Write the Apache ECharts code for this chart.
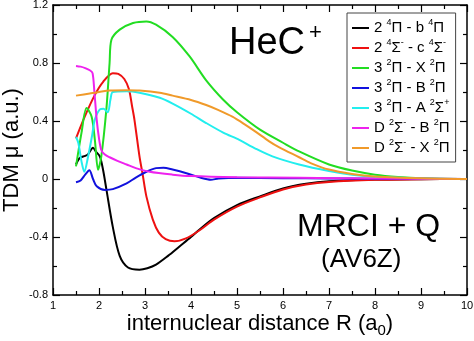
<!DOCTYPE html>
<html>
<head>
<meta charset="utf-8">
<script src="https://cdn.jsdelivr.net/npm/echarts@6/dist/echarts.min.js"></script>
<style>html,body{margin:0;padding:0;background:#fff}#c{width:474px;height:341px}</style>
</head>
<body>
<div id="c"></div>
<script>
// Tick values
const xTicks = [1, 2, 3, 4, 5, 6, 7, 8, 9, 10];
const yTicks = [-0.8, -0.4, 0, 0.4, 0.8, 1.2];

// Series names (legend) and rich labels
const seriesNames = ['2 4Π - b 4Π', '2 4Σ- - c 4Σ-', '3 2Π - X 2Π', '3 2Π - B 2Π', '3 2Π - A 2Σ+', 'D 2Σ- - B 2Π', 'D 2Σ- - X 2Π'];
const seriesLabels = [
  '2 {sup|4}Π - b {sup|4}Π',
  '2 {sup|4}Σ{sup|-} - c {sup|4}Σ{sup|-}',
  '3 {sup|2}Π - X {sup|2}Π',
  '3 {sup|2}Π - B {sup|2}Π',
  '3 {sup|2}Π - A {sup|2}Σ{sup|+}',
  'D {sup|2}Σ{sup|-} - B {sup|2}Π',
  'D {sup|2}Σ{sup|-} - X {sup|2}Π'
];
const seriesColors = ['#000000', '#ee1111', '#22dd22', '#1111dd', '#22eeee', '#ee22ee', '#f09a2a'];

// Data: [R (a0), TDM (a.u.)]
const black = [[1.5,0.10],[1.58,0.145],[1.7,0.16],[1.76,0.17],[1.87,0.215],[1.93,0.19],[2.02,0.155],[2.09,0.06],[2.16,-0.07],[2.3,-0.33],[2.45,-0.53],[2.63,-0.61],[2.88,-0.625],[3.05,-0.615],[3.24,-0.59],[3.5,-0.53],[3.75,-0.465],[4.0,-0.4],[4.18,-0.35],[4.5,-0.27],[5.0,-0.18],[5.5,-0.12],[6.0,-0.065],[6.5,-0.033],[7.0,-0.016],[8.0,-0.004],[9,-0.001],[10,0]];
const red = [[1.5,0.28],[1.69,0.43],[1.91,0.58],[2.09,0.67],[2.3,0.73],[2.42,0.725],[2.55,0.69],[2.65,0.62],[2.72,0.5],[2.77,0.41],[2.88,0.156],[2.95,0.03],[3.03,-0.12],[3.17,-0.28],[3.3,-0.37],[3.45,-0.415],[3.64,-0.43],[3.89,-0.41],[4.18,-0.355],[4.5,-0.28],[5.0,-0.19],[5.5,-0.127],[6.0,-0.072],[6.5,-0.038],[7.0,-0.02],[8.0,-0.006],[9,-0.001],[10,0]];
const green = [[1.5,0.087],[1.62,0.32],[1.73,0.49],[1.84,0.43],[1.91,0.27],[1.98,0.064],[2.05,0.156],[2.16,0.48],[2.23,0.8],[2.27,0.96],[2.45,1.03],[2.74,1.076],[3.03,1.087],[3.24,1.064],[3.6,0.98],[3.97,0.845],[4.33,0.68],[4.69,0.55],[5.0,0.46],[5.5,0.34],[6.0,0.25],[6.35,0.19],[7,0.1],[7.5,0.058],[8,0.03],[8.5,0.014],[9,0.005],[10,0]];
const blue = [[1.5,-0.023],[1.6,-0.01],[1.7,0.03],[1.79,0.06],[1.87,0.0],[1.95,-0.05],[2.13,-0.075],[2.3,-0.07],[2.6,-0.03],[2.8,0.01],[3.03,0.05],[3.24,0.075],[3.4,0.078],[3.6,0.065],[3.9,0.04],[4.2,0.01],[4.43,-0.005],[4.6,0.003],[5,0.008],[6,0.006],[7,0.004],[8,0.002],[10,0]];
const cyan = [[1.5,0.29],[1.55,0.25],[1.62,0.12],[1.68,0.05],[1.76,0.15],[1.85,0.3],[1.91,0.41],[2.02,0.48],[2.1,0.485],[2.19,0.46],[2.25,0.55],[2.3,0.6],[2.6,0.605],[2.88,0.595],[3.32,0.56],[3.6,0.52],[4.0,0.45],[4.33,0.386],[4.7,0.32],[5.05,0.27],[5.4,0.21],[5.77,0.156],[6.35,0.1],[7,0.055],[7.5,0.03],[8,0.015],[9,0.004],[10,0]];
const magenta = [[1.5,0.78],[1.6,0.775],[1.7,0.765],[1.8,0.75],[1.86,0.73],[1.9,0.6],[1.95,0.41],[2.0,0.28],[2.05,0.2],[2.12,0.17],[2.23,0.15],[2.4,0.125],[2.6,0.1],[2.8,0.075],[3.1,0.05],[3.6,0.03],[4.0,0.02],[5,0.012],[6.35,0.008],[8,0.003],[10,0]];
const orange = [[1.5,0.575],[1.8,0.59],[2.0,0.6],[2.23,0.61],[2.6,0.612],[2.88,0.61],[3.32,0.595],[3.6,0.575],[4.0,0.545],[4.33,0.51],[4.6,0.475],[4.9,0.43],[5.2,0.37],[5.41,0.325],[5.7,0.26],[5.91,0.22],[6.35,0.15],[6.6,0.11],[7,0.065],[7.5,0.035],[8,0.018],[9,0.005],[10,0]];
const seriesData = [black, red, green, blue, cyan, magenta, orange];

const FONT = '"Liberation Sans", Arial, Helvetica, sans-serif';
const chart = echarts.init(document.getElementById('c'), null, {renderer: 'canvas'});

const labelMap = {};
seriesNames.forEach((n, i) => labelMap[n] = seriesLabels[i]);

const axisCommon = {
  axisLine: {show: true, onZero: false, lineStyle: {color: '#000', width: 1.5}},
  axisTick: {show: true, inside: true, length: 7, lineStyle: {color: '#000', width: 1.2}},
  minorTick: {show: true, splitNumber: 2, length: 4, lineStyle: {color: '#000', width: 1.2}},
  splitLine: {show: false}
};

chart.setOption({
  animation: false,
  backgroundColor: '#fff',
  grid: {left: 53, right: 7, top: 5, bottom: 46, containLabel: false, outerBoundsMode: 'none'},
  xAxis: [
    Object.assign({
      type: 'value', min: xTicks[0], max: xTicks[xTicks.length - 1], interval: 1, position: 'bottom',
      axisLabel: {show: true, color: '#000', fontSize: 11, fontFamily: FONT, margin: 5},
      name: 'internuclear distance R (a{sub|0})', nameLocation: 'middle', nameGap: 14, nameMoveOverlap: false,
      nameTextStyle: {fontSize: 22, fontFamily: FONT, color: '#000', verticalAlign: 'top', rich: {sub: {fontSize: 15, fontFamily: FONT, padding: [14, 0, 0, 0]}}}
    }, axisCommon),
    Object.assign({
      type: 'value', min: xTicks[0], max: xTicks[xTicks.length - 1], interval: 1, position: 'top',
      axisLabel: {show: false}
    }, axisCommon)
  ],
  yAxis: [
    Object.assign({
      type: 'value', min: yTicks[0], max: yTicks[yTicks.length - 1], interval: 0.4, position: 'left',
      axisLabel: {show: true, color: '#000', fontSize: 11, fontFamily: FONT, margin: 5},
      name: 'TDM μ (a.u.)', nameLocation: 'middle', nameGap: 30, nameRotate: 90, nameMoveOverlap: false,
      nameTextStyle: {fontSize: 22, fontFamily: FONT, color: '#000'}
    }, axisCommon),
    Object.assign({
      type: 'value', min: yTicks[0], max: yTicks[yTicks.length - 1], interval: 0.4, position: 'right',
      axisLabel: {show: false}
    }, axisCommon)
  ],
  legend: {
    show: true, orient: 'vertical', left: 347, top: 13,
    data: seriesNames,
    icon: 'rect', itemWidth: 17, itemHeight: 2, itemGap: 0,
    borderColor: '#444', borderWidth: 1, padding: [5, 6, 4, 5],
    formatter: n => labelMap[n],
    textStyle: {fontSize: 15, fontFamily: FONT, color: '#000', lineHeight: 20, padding: [0, 0, 0, 0],
      rich: {sup: {fontSize: 9, fontFamily: FONT, color: '#000', lineHeight: 20, verticalAlign: 'top', padding: [0, 0, 6, 0]}}}
  },
  graphic: [
    {type: 'text', left: 229, top: 22, style: {text: 'HeC{sup|+}', font: '38px ' + FONT, fill: '#000',
      rich: {sup: {fontSize: 22, fontFamily: FONT, padding: [0, 0, 22, 4]}}}},
    {type: 'text', left: 297, top: 211, style: {text: 'MRCI + Q', font: '32px ' + FONT, fill: '#000'}},
    {type: 'text', left: 321, top: 247, style: {text: '(AV6Z)', font: '26px ' + FONT, fill: '#000'}}
  ],
  series: seriesData.map((d, i) => ({
    name: seriesNames[i], type: 'line', data: d, smooth: 0.3, showSymbol: false, symbol: 'none',
    lineStyle: {color: seriesColors[i], width: 2}, itemStyle: {color: seriesColors[i]},
    clip: true, z: 2 + i
  }))
});
</script>
</body>
</html>
